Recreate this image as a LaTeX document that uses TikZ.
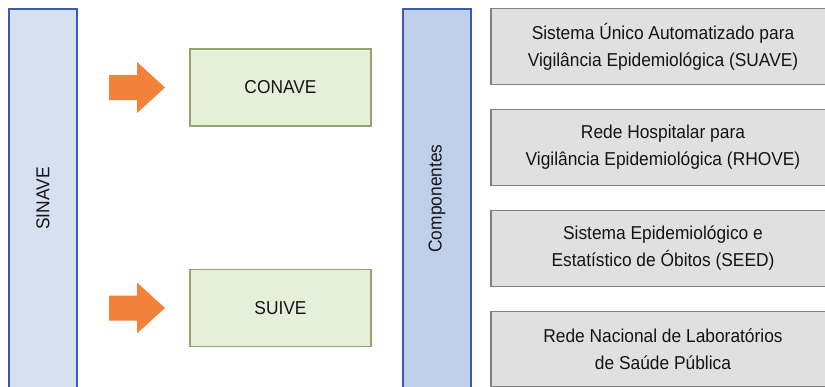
\documentclass[tikz,border=0pt]{standalone}
\usepackage{fontspec}
\setmainfont{Liberation Sans}[FakeStretch=0.93]
\usepackage{tikz}
\usetikzlibrary{positioning}

\definecolor{barblue}{RGB}{60,92,170}
\definecolor{sinavefill}{RGB}{213,224,241}
\definecolor{compfill}{RGB}{192,207,234}
\definecolor{greenline}{RGB}{152,162,112}
\definecolor{greenfill}{RGB}{229,240,218}
\definecolor{grayline}{RGB}{128,128,128}
\definecolor{grayfill}{RGB}{224,224,224}
\definecolor{arroworange}{RGB}{242,130,58}
\definecolor{txtgray}{RGB}{20,20,20}

\tikzset{
    fatarrow/.pic={
        \fill[arroworange] (-56,-12.5) -- (-28,-12.5) -- (-28,-25.5) -- (0,0)
            -- (-28,25.5) -- (-28,12.5) -- (-56,12.5) -- cycle;
    }
}

\begin{document}
\begin{tikzpicture}[
    x=0.75pt, y=-0.75pt,
    every node/.style={font=\fontsize{14}{20.25}\selectfont, text=txtgray},
    bar/.style={draw=barblue, line width=1pt, rotate=90, minimum width=284.25pt, minimum height=51pt, inner sep=0pt},
    greenbox/.style={draw=greenline, fill=greenfill, line width=1pt, minimum width=135.75pt, minimum height=57.75pt, align=center},
    graybox/.style={draw=grayline, fill=grayfill, line width=0.8pt, minimum width=258pt, minimum height=56.5pt, align=center}
]
\clip (0,0) rectangle (825,386);

% barras verticais
\node[bar, fill=sinavefill] (sinave) at (43,198.5) {SINAVE};
\node[bar, fill=compfill]   (comp)   at (437,198.5) {Componentes};

% subsistemas
\node[greenbox] (conave) at (280.5,87.5) {CONAVE};
\node[greenbox] (suive)  at (280.5,308)  {SUIVE};

\pic at (165,87.5) {fatarrow};
\pic at (165,308)  {fatarrow};

% componentes
\node[graybox] (suave) at (663,46.5)  {Sistema Único Automatizado para\\Vigilância Epidemiológica (SUAVE)};
\node[graybox] (rhove) at (663,147.5) {Rede Hospitalar para\\Vigilância Epidemiológica (RHOVE)};
\node[graybox] (seed)  at (663,248.5) {Sistema Epidemiológico e\\Estatístico de Óbitos (SEED)};
\node[graybox] (lab)   at (663,349)   {Rede Nacional de Laboratórios\\de Saúde Pública};

\end{tikzpicture}
\end{document}
